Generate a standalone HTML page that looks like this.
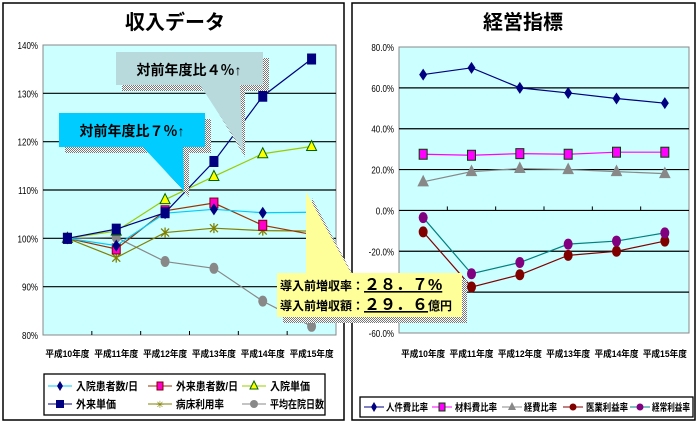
<!DOCTYPE html>
<html><head><meta charset="utf-8"><style>
body{margin:0;background:#fff;width:699px;height:423px;overflow:hidden;font-family:"Liberation Sans","Noto Sans CJK JP",sans-serif}
svg text{font-family:"Liberation Sans","Noto Sans CJK JP",sans-serif}
</style></head><body>
<svg id="s" width="699" height="423" xmlns="http://www.w3.org/2000/svg">
<defs>
<pattern id="dith" width="2" height="2" patternUnits="userSpaceOnUse"><rect width="2" height="2" fill="#fff"/><rect width="1" height="1" fill="#777"/><rect x="1" y="1" width="1" height="1" fill="#777"/></pattern>
</defs>
<rect x="3" y="3" width="341" height="417" fill="#fff" stroke="#000" stroke-width="1.5"/>
<rect x="352" y="3" width="343" height="417" fill="#fff" stroke="#000" stroke-width="1.5"/>
<text x="175" y="29" font-size="20" font-weight="bold" text-anchor="middle">収入データ</text>
<text x="523" y="29" font-size="20" font-weight="bold" text-anchor="middle">経営指標</text>
<g id="L"></g><g id="R"></g>
<g>
<polygon points="122,58 269,58 269,91 245,91 245,157 205,91 122,91" fill="url(#dith)"/>
<polygon points="116,52 263,52 263,85 240,85 243,151 200,85 116,85" fill="#b8dadd"/>
<text x="189" y="75" font-size="14" font-weight="bold" text-anchor="middle">対前年度比４％↑</text>
</g>
<g>
<polygon points="65,119 211,119 211,153 189,153 189,197 149,153 65,153" fill="url(#dith)"/>
<polygon points="59,113 205,113 205,147 183,147 184,191 143,147 59,147" fill="#00ccff"/>
<text x="132" y="136" font-size="14" font-weight="bold" text-anchor="middle">対前年度比７％↑</text>
</g>
<g>
<polygon points="312,198 355,279 467,279 467,323 283,323 283,279 312,279" fill="url(#dith)"/>
<polygon points="306,192 351,273 462,273 462,317 277,317 277,273 306,273" fill="#ffff99"/>
<text x="280" y="290" font-size="12" font-weight="bold">導入前増収率：<tspan font-size="16" text-decoration="underline">２８．７%</tspan></text>
<text x="280" y="310" font-size="12" font-weight="bold">導入前増収額：<tspan font-size="16" text-decoration="underline">２９．６</tspan>億円</text>
</g>
<g>
<rect x="44" y="374" width="281" height="41" fill="#fff" stroke="#000" stroke-width="1.3"/>
<g><line x1="48" x2="72" y1="386" y2="386" stroke="#00ccff"/><polygon points="60,381 63,386 60,391 57,386" fill="#000080"/><text x="76" y="390" font-size="11" font-weight="bold" textLength="62" lengthAdjust="spacingAndGlyphs">入院患者数/日</text></g>
<g><line x1="148" x2="172" y1="386" y2="386" stroke="#993300"/><rect x="157" y="382" width="6" height="8" fill="#ff00cc" stroke="#800000"/><text x="176" y="390" font-size="11" font-weight="bold" textLength="62" lengthAdjust="spacingAndGlyphs">外来患者数/日</text></g>
<g><line x1="242" x2="266" y1="386" y2="386" stroke="#99cc00"/><polygon points="254,381 258,389 250,389" fill="#ff0" stroke="#060"/><text x="270" y="390" font-size="11" font-weight="bold" textLength="40" lengthAdjust="spacingAndGlyphs">入院単価</text></g>
<g><line x1="48" x2="72" y1="404" y2="404" stroke="#000080"/><rect x="56" y="400" width="8" height="8" fill="#000080"/><text x="76" y="408" font-size="11" font-weight="bold" textLength="40" lengthAdjust="spacingAndGlyphs">外来単価</text></g>
<g><line x1="148" x2="172" y1="404" y2="404" stroke="#808000"/><text x="160" y="408" font-size="10" fill="#808000" text-anchor="middle">✳</text><text x="176" y="408" font-size="11" font-weight="bold" textLength="48" lengthAdjust="spacingAndGlyphs">病床利用率</text></g>
<g><line x1="242" x2="266" y1="404" y2="404" stroke="#888"/><circle cx="254" cy="404" r="4" fill="#888"/><text x="270" y="408" font-size="11" font-weight="bold" textLength="54" lengthAdjust="spacingAndGlyphs">平均在院日数</text></g>
</g>
<g>
<rect x="360" y="397" width="333" height="20" fill="#fff" stroke="#000" stroke-width="1.3"/>
<g><line x1="364" x2="384" y1="407" y2="407" stroke="#000080"/><polygon points="374,402 377,407 374,412 371,407" fill="#000080"/><text x="386" y="411" font-size="10" font-weight="bold" textLength="42" lengthAdjust="spacingAndGlyphs">人件費比率</text></g>
<g><line x1="432" x2="452" y1="407" y2="407" stroke="#ff00ff"/><rect x="439" y="403" width="6" height="8" fill="#ff00ff" stroke="#004000"/><text x="455" y="411" font-size="10" font-weight="bold" textLength="42" lengthAdjust="spacingAndGlyphs">材料費比率</text></g>
<g><line x1="502" x2="522" y1="407" y2="407" stroke="#888"/><polygon points="512,402 516,410 508,410" fill="#888"/><text x="524" y="411" font-size="10" font-weight="bold" textLength="33" lengthAdjust="spacingAndGlyphs">経費比率</text></g>
<g><line x1="563" x2="583" y1="407" y2="407" stroke="#800000"/><circle cx="573" cy="407" r="3.5" fill="#800000"/><text x="586" y="411" font-size="10" font-weight="bold" textLength="42" lengthAdjust="spacingAndGlyphs">医業利益率</text></g>
<g><line x1="630" x2="650" y1="407" y2="407" stroke="#008080"/><circle cx="640" cy="407" r="3.5" fill="#800080"/><text x="652" y="411" font-size="10" font-weight="bold" textLength="38" lengthAdjust="spacingAndGlyphs">経常利益率</text></g>
</g>
</svg>
<script>
const cats=['平成10年度','平成11年度','平成12年度','平成13年度','平成14年度','平成15年度'];
const leftTicks=[80,90,100,110,120,130,140];
const inpatients=[100,98.5,105.2,106,105.3,105.4];
const outpatients=[100,97.8,105.7,107.3,102.7,100.8];
const inpatientPrice=[100,101.5,108,112.8,117.5,119];
const outpatientPrice=[100,101.9,105.3,115.9,129.4,137.1];
const bedRate=[100,96,101.2,102.1,101.6,101.5];
const stayDays=[100,100.2,95.2,93.8,87,81.8];
const rightTicks=[-60,-40,-20,0,20,40,60,80];
const personnel=[66.5,69.8,60,57.5,54.8,52.5];
const material=[27.5,27,27.8,27.5,28.5,28.5];
const expense=[14,19,20.5,20,19,18];
const medProfit=[-10.5,-37.5,-31.5,-22,-20,-15];
const ordProfit=[-3.5,-31,-25.5,-16.5,-15,-11];

const NS='http://www.w3.org/2000/svg';
function mk(p,t,a){const e=document.createElementNS(NS,t);for(const k in a)e.setAttribute(k,a[k]);p.appendChild(e);return e;}
function marker(g,type,x,y,fill,stroke){
 let e;
 if(type==='diamond')e=mk(g,'polygon',{points:`${x},${y-6} ${x+4},${y} ${x},${y+6} ${x-4},${y}`,fill:fill});
 else if(type==='square')e=mk(g,'rect',{x:x-4,y:y-5,width:8,height:10,fill:fill,stroke:stroke||'#000','stroke-width':1});
 else if(type==='tri')e=mk(g,'polygon',{points:`${x},${y-6} ${x+5},${y+4} ${x-5},${y+4}`,fill:fill,stroke:stroke||'#060','stroke-width':1});
 else if(type==='circle')e=mk(g,'ellipse',{cx:x,cy:y,rx:4.5,ry:5.5,fill:fill});
 else if(type==='star'){e=mk(g,'path',{d:`M${x-4},${y-4}L${x+4},${y+4}M${x+4},${y-4}L${x-4},${y+4}M${x},${y-5}L${x},${y+5}`,stroke:fill,'stroke-width':1.3});}
 return e;
}
function chart(gid,left,top,right,bottom,ticks,fmt,series,zeroAxis,name){
 const g=document.getElementById(gid);
 const mn=ticks[0],mx=ticks[ticks.length-1];
 const y=v=>bottom-(v-mn)/(mx-mn)*(bottom-top);
 const cw=(right-left)/cats.length;
 const x=i=>left+cw*(i+0.5);
 const bg=mk(g,'rect',{x:left,y:top,width:right-left,height:bottom-top,fill:'#ccffff',stroke:'#888'});
 
 
 ticks.forEach((t,i)=>{
  if(i>0&&i<ticks.length-1){const l=mk(g,'line',{x1:left,x2:right,y1:y(t),y2:y(t),stroke:'#000','stroke-width':1.2});
   
   }
  const tx=mk(g,'text',{x:left-5,y:y(t)+4,'font-size':10,'text-anchor':'end',transform:`translate(${left-5},0) scale(0.8,1) translate(${-(left-5)},0)`});
  tx.textContent=fmt(t);
  
  
 });
 const ay=zeroAxis?y(0):bottom;
 for(let i=1;i<cats.length;i++){mk(g,'line',{x1:left+cw*i,x2:left+cw*i,y1:ay,y2:ay-4,stroke:'#000'});}
 cats.forEach((c,i)=>{const t=mk(g,'text',{x:x(i),y:357,'font-size':9,'font-weight':'bold','text-anchor':'middle',textLength:44,lengthAdjust:'spacingAndGlyphs'});
  t.textContent=c;
  
  });
 series.forEach(s=>{
  const sg=mk(g,'g',{});
  
  
  mk(sg,'polyline',{points:s.data.map((v,i)=>x(i)+','+y(v)).join(' '),fill:'none',stroke:s.line,'stroke-width':1.2});
  s.data.forEach((v,i)=>{const m=marker(sg,s.m,x(i),y(v),s.fill,s.stroke);
   
   });
 });
}
chart('L',43,45,336,335,leftTicks,t=>t+'%',[
 {name:'stay-days-series',data:stayDays,line:'#888',m:'circle',fill:'#888'},
 {name:'bed-rate-series',data:bedRate,line:'#808000',m:'star',fill:'#808000'},
 {name:'inpatient-price-series',data:inpatientPrice,line:'#99cc00',m:'tri',fill:'#ffff00'},
 {name:'outpatients-series',data:outpatients,line:'#993300',m:'square',fill:'#ff00cc',stroke:'#800000'},
 {name:'inpatients-series',data:inpatients,line:'#00ccff',m:'diamond',fill:'#000080'},
 {name:'outpatient-price-series',data:outpatientPrice,line:'#000080',m:'square',fill:'#000080',stroke:'#000080'}
],false,'left');
chart('R',399,47,689,333,rightTicks,t=>t.toFixed(1)+'%',[
 {name:'personnel-ratio-series',data:personnel,line:'#000080',m:'diamond',fill:'#000080'},
 {name:'material-ratio-series',data:material,line:'#ff00ff',m:'square',fill:'#ff00ff',stroke:'#004000'},
 {name:'expense-ratio-series',data:expense,line:'#888',m:'tri',fill:'#888',stroke:'#888'},
 {name:'medical-profit-series',data:medProfit,line:'#800000',m:'circle',fill:'#800000'},
 {name:'ordinary-profit-series',data:ordProfit,line:'#008080',m:'circle',fill:'#800080'}
],true,'right');
</script>
</body></html>
